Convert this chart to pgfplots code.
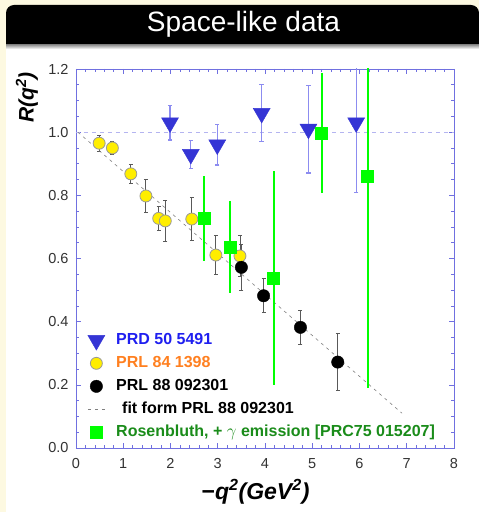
\documentclass[border=0pt]{standalone}
\usepackage{fontspec}
\setmainfont{Liberation Sans}
\usepackage{pgfplots}
\pgfplotsset{compat=1.18}
\definecolor{cream}{HTML}{FDF9E1}
\definecolor{axisblue}{HTML}{7070E0}
\definecolor{triblue}{HTML}{3535D5}
\definecolor{barblue}{HTML}{8C8CF0}
\definecolor{lav}{HTML}{B4B4F0}
\definecolor{prdblue}{HTML}{1F1FF0}
\definecolor{prlorange}{HTML}{FF8020}
\definecolor{dotyellow}{HTML}{FFEE00}
\definecolor{sqgreen}{HTML}{00FF00}
\definecolor{txtgreen}{HTML}{1A8C1A}

\begin{document}
\begin{tikzpicture}[x=1pt,y=1pt]
% slide block
\path[use as bounding box] (0,0) rectangle (479,512);
\fill[cream] (0,0) rectangle (479,512);
\fill[white] (6,0) rectangle (479,466);
\shade[top color=black!60, bottom color=white] (6,463) rectangle (479,469);
\fill[black] (6,468) [rounded corners=8pt] -- (6,507) -- (479,507) [sharp corners] -- (479,468) -- cycle;
\node[text=white, font=\fontsize{28}{32}\selectfont] at (243.5,488) {Space-like data};

\begin{axis}[
    at={(76pt,64pt)}, anchor=south west,
    scale only axis, width=378pt, height=379pt,
    xmin=0, xmax=8, ymin=0, ymax=1.2,
    xtick={0,1,2,3,4,5,6,7,8},
    ytick={0,0.2,0.4,0.6,0.8,1.0,1.2},
    minor x tick num=4, minor y tick num=3,
    tick align=inside,
    major tick length=5pt, minor tick length=3pt,
    axis line style={color=axisblue, line width=0.8pt},
    tick style={color=axisblue, line width=0.6pt},
    /pgf/number format/assume math mode=true,
    ticklabel style={font=\fontsize{14.5}{17}\selectfont, text=black!80},
    yticklabel style={xshift=-4pt, /pgf/number format/.cd, fixed, fixed zerofill, precision=1},
    xticklabel style={yshift=-7pt},
    xlabel={\textbf{−\textit{q\textsuperscript{2}(GeV\textsuperscript{2})}}},
    ylabel={\textbf{\textit{R(q\textsuperscript{2})}}},
    xlabel style={at={(axis description cs:0.475,-0.116)}, anchor=center, font=\fontsize{23}{26}\selectfont},
    ylabel style={at={(axis description cs:-0.13,0.925)}, anchor=center, font=\fontsize{21}{24}\selectfont},
    legend style={at={(axis description cs:0.030,0.311)}, anchor=north west,
        draw=none, fill=none, inner sep=0pt, row sep=3pt, column sep=9pt,
        font=\bfseries\fontsize{16}{19}\selectfont,
        nodes={inner sep=2pt, text height=12pt, text depth=4pt}},
    legend cell align=left,
]
% reference line R = 1
\addplot[lav, line width=0.8pt, dash pattern=on 4pt off 4pt, forget plot]
    coordinates {(0,1) (8,1)};

% PRD 50 5491
\addplot[only marks, mark=triangle*, mark size=9.8pt,
    mark options={rotate=180, fill=triblue, draw=triblue},
    error bars/.cd, y dir=both, y explicit,
    error bar style={color=barblue, line width=1.2pt},
    error mark options={rotate=90, color=barblue, mark size=2.2pt, line width=1.2pt}]
    coordinates {
    (1.99,1.030) +- (0,0.055)
    (2.43,0.930) +- (0,0.044)
    (2.99,0.960) +- (0,0.064)
    (3.93,1.060) +- (0,0.090)
    (4.92,1.010) +- (0,0.139)
    (5.93,1.030) +- (0,0.220)
    };
\addlegendentry{\textcolor{prdblue}{PRD 50 5491}}

% PRL 84 1398
\addplot[only marks, mark=*, mark size=6pt,
    mark options={fill=dotyellow, draw=black!40, line width=0.8pt},
    error bars/.cd, y dir=both, y explicit,
    error bar style={color=black!65, line width=0.9pt},
    error mark options={rotate=90, color=black!65, mark size=2pt, line width=0.9pt}]
    coordinates {
    (0.49,0.965) +- (0,0.026)
    (0.77,0.950) +- (0,0.020)
    (1.16,0.868) +- (0,0.031)
    (1.48,0.798) +- (0,0.051)
    (1.75,0.727) +- (0,0.038)
    (1.89,0.719) +- (0,0.066)
    (2.45,0.725) +- (0,0.067)
    (2.96,0.611) +- (0,0.063)
    (3.47,0.608) +- (0,0.065)
    };
\addlegendentry{\textcolor{prlorange}{PRL 84 1398}}

% PRL 88 092301
\addplot[only marks, mark=*, mark size=6.2pt,
    mark options={fill=black, draw=black},
    error bars/.cd, y dir=both, y explicit,
    error bar style={color=black!65, line width=0.9pt},
    error mark options={rotate=90, color=black!65, mark size=2pt, line width=0.9pt}]
    coordinates {
    (3.50,0.572) +- (0,0.074)
    (3.97,0.482) +- (0,0.054)
    (4.75,0.382) +- (0,0.054)
    (5.54,0.272) +- (0,0.090)
    };
\addlegendentry{PRL 88 092301}

% fit form
\addplot[black!50, line width=0.6pt, dash pattern=on 3pt off 4pt]
    coordinates {(0.04,1.0) (6.9,0.11)};
\addlegendentry{\hspace{6pt}fit form PRL 88 092301}

% Rosenbluth + gamma emission
\addplot[only marks, mark=square*, mark size=6pt,
    mark options={fill=sqgreen, draw=sqgreen},
    error bars/.cd, y dir=both, y explicit, error mark=none,
    error bar style={draw=sqgreen, line width=2pt}]
    coordinates {
    (2.71,0.727) +- (0,0.135)
    (3.26,0.637) +- (0,0.145)
    (4.18,0.538) +- (0,0.339)
    (5.20,0.997) +- (0,0.190)
    (6.17,0.861) +- (0,0.672)
    };
\addlegendentry{\textcolor{txtgreen}{Rosenbluth, + $\gamma$ emission [PRC75 015207]}}
\end{axis}
\end{tikzpicture}
\end{document}
